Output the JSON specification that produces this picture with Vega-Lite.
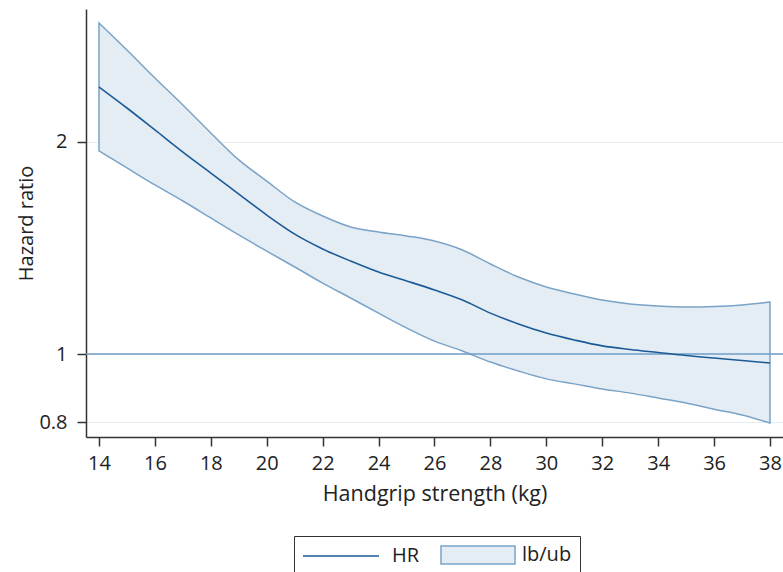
{
  "$schema": "https://vega.github.io/schema/vega-lite/v6.json",
  "width": 697,
  "height": 428,
  "autosize": {"type": "none"},
  "padding": {"left": 86, "top": 9, "right": 0, "bottom": 135},
  "config": {
    "font": "Open Sans",
    "view": {"stroke": null},
    "axis": {
      "labelFontSize": 20,
      "titleFontSize": 21.5,
      "titleFontWeight": "normal",
      "labelColor": "#222222",
      "titleColor": "#222222",
      "domainColor": "#333333",
      "domainWidth": 1.5,
      "tickColor": "#333333",
      "tickWidth": 1.5,
      "tickSize": 9
    },
    "legend": {
      "title": null,
      "orient": "none",
      "legendX": 208,
      "legendY": 527,
      "direction": "horizontal",
      "strokeColor": "#333333",
      "fillColor": "#ffffff",
      "padding": 8,
      "symbolSize": 400,
      "symbolStrokeWidth": 1.5,
      "symbolOpacity": 1,
      "labelOffset": 68,
      "columnPadding": 12,
      "labelFontSize": 20,
      "labelColor": "#222222",
      "labelFont": "Open Sans"
    }
  },
  "datasets": {
    "curve": [
      {"x": 14, "hr": 2.394, "lb": 1.942, "ub": 2.951},
      {"x": 15, "hr": 2.235, "lb": 1.837, "ub": 2.701},
      {"x": 16, "hr": 2.080, "lb": 1.738, "ub": 2.465},
      {"x": 17, "hr": 1.935, "lb": 1.649, "ub": 2.257},
      {"x": 18, "hr": 1.807, "lb": 1.560, "ub": 2.060},
      {"x": 19, "hr": 1.687, "lb": 1.476, "ub": 1.886},
      {"x": 20, "hr": 1.575, "lb": 1.400, "ub": 1.760},
      {"x": 21, "hr": 1.480, "lb": 1.329, "ub": 1.644},
      {"x": 22, "hr": 1.410, "lb": 1.261, "ub": 1.570},
      {"x": 23, "hr": 1.355, "lb": 1.201, "ub": 1.515},
      {"x": 24, "hr": 1.307, "lb": 1.143, "ub": 1.490},
      {"x": 25, "hr": 1.270, "lb": 1.089, "ub": 1.471},
      {"x": 26, "hr": 1.233, "lb": 1.043, "ub": 1.447},
      {"x": 27, "hr": 1.193, "lb": 1.010, "ub": 1.405},
      {"x": 28, "hr": 1.143, "lb": 0.974, "ub": 1.342},
      {"x": 29, "hr": 1.103, "lb": 0.946, "ub": 1.286},
      {"x": 30, "hr": 1.071, "lb": 0.922, "ub": 1.245},
      {"x": 31, "hr": 1.047, "lb": 0.907, "ub": 1.217},
      {"x": 32, "hr": 1.027, "lb": 0.892, "ub": 1.193},
      {"x": 33, "hr": 1.015, "lb": 0.880, "ub": 1.178},
      {"x": 34, "hr": 1.005, "lb": 0.866, "ub": 1.170},
      {"x": 35, "hr": 0.995, "lb": 0.852, "ub": 1.166},
      {"x": 36, "hr": 0.987, "lb": 0.835, "ub": 1.168},
      {"x": 37, "hr": 0.979, "lb": 0.819, "ub": 1.174},
      {"x": 38, "hr": 0.971, "lb": 0.798, "ub": 1.185}
    ],
    "keys": [
      {"series": "HR"},
      {"series": "lb/ub"}
    ]
  },
  "data": {"name": "curve"},
  "layer": [
    {
      "mark": {"type": "area", "interpolate": "monotone", "fill": "#e5edf4", "stroke": "#7aa3c8", "strokeWidth": 1.5, "opacity": 1},
      "encoding": {
        "x": {
          "field": "x", "type": "quantitative",
          "scale": {"domain": [13.535, 38.465], "nice": false, "zero": false},
          "axis": {"values": [14,16,18,20,22,24,26,28,30,32,34,36,38], "grid": false, "title": "Handgrip strength (kg)", "labelPadding": 7, "titlePadding": 10, "labelFlush": false}
        },
        "y": {
          "field": "lb", "type": "quantitative",
          "scale": {"type": "log", "domain": [0.7624, 3.089], "nice": false, "zero": false},
          "axis": {"values": [0.8, 1, 2], "labelExpr": "format(datum.value, '~g')", "grid": true, "gridColor": "#e4ecf4", "gridWidth": 1.2, "title": "Hazard ratio", "titleFontSize": 20, "labelPadding": 10, "titlePadding": 2}
        },
        "y2": {"field": "ub"}
      }
    },
    {
      "data": {"values": [{"ref": 1}]},
      "mark": {"type": "rule", "color": "#6f9ec6", "strokeWidth": 1.5},
      "encoding": {"y": {"field": "ref", "type": "quantitative"}}
    },
    {
      "mark": {"type": "line", "interpolate": "monotone", "strokeWidth": 1.6, "color": "#1a5a96"},
      "encoding": {
        "x": {"field": "x", "type": "quantitative"},
        "y": {"field": "hr", "type": "quantitative"}
      }
    },
    {
      "data": {"name": "keys"},
      "mark": {"type": "point", "opacity": 0, "strokeWidth": 1.5},
      "encoding": {
        "shape": {
          "field": "series", "type": "nominal",
          "scale": {"domain": ["HR", "lb/ub"], "range": ["M-1,0H6.6", "M-0.2,-0.9H7.2V0.9H-0.2Z"]},
          "legend": {"title": null}
        },
        "fill": {
          "field": "series", "type": "nominal",
          "scale": {"domain": ["HR", "lb/ub"], "range": ["transparent", "#e5edf4"]},
          "legend": {"title": null}
        },
        "stroke": {
          "field": "series", "type": "nominal",
          "scale": {"domain": ["HR", "lb/ub"], "range": ["#1a5a96", "#7aa3c8"]},
          "legend": {"title": null}
        }
      }
    }
  ]
}
